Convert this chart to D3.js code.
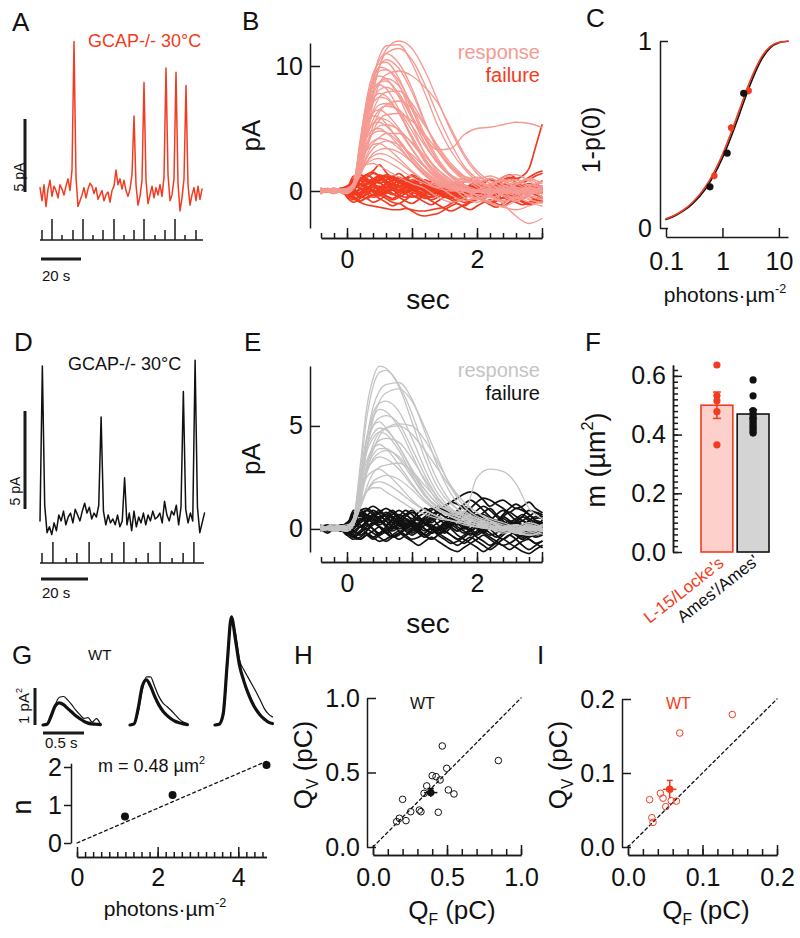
<!DOCTYPE html>
<html><head><meta charset="utf-8">
<script src="https://cdn.jsdelivr.net/npm/d3@7"></script>
<style>html,body{margin:0;padding:0;background:#fff;}svg{display:block;}</style>
</head><body>
<svg id="fig" width="800" height="938"></svg>
<script>
// ================= DATA =================
// Panel A: GCAP-/- 30°C recording (pA), sampled every 1 s
const timeA = d3.range(0, 82);
const traceA = [0.3,-0.6,0.5,-1.0,0.2,0.8,-0.3,0.4,0.1,-0.4,
 0.5,0.2,-0.2,0.4,0.9,0.1,1.5,10.3,1.0,-1.0,
 -0.6,-0.2,0.3,-0.4,0.2,0.6,0.4,-0.1,0.3,-0.5,
 -0.2,0.1,-0.6,-0.2,0.0,-0.7,0.1,0.4,1.5,0.5,
 0.9,0.2,0.8,0.1,-0.3,0.2,1.2,5.2,0.5,-0.9,
 -0.3,0.8,7.5,0.8,-0.8,-0.2,0.4,-0.4,0.3,-0.2,
 0.5,-0.3,1.0,8.5,1.2,-0.6,-0.2,0.9,8.2,0.6,
 -1.3,-0.4,0.9,7.3,0.5,-0.9,-0.2,0.3,-0.6,0.4,
 -0.5,0.2];
const flashA = [1,6,11,16.5,21.5,26.5,31.5,37,42,47,52,57.5,62.5,67.5,72.5,78];
const flashLevelA = [1,2,0,1,2,0,1,2,0,1,2,0,1,2,0,1];

// Panel D
const timeD = d3.range(0, 71);
const traceD = [-0.2,7.7,0.6,-0.8,-0.5,-0.9,-0.3,-0.7,0.1,-0.2,
 0.3,-0.4,0.0,0.2,-0.3,0.4,0.1,-0.2,0.3,0.7,
 0.2,0.5,-0.1,0.2,0.0,0.6,5.1,0.3,-0.4,0.1,
 -0.3,-0.1,-0.4,0.1,-0.5,-0.2,2.0,-0.4,0.2,-0.7,
 0.3,-0.5,0.0,-0.3,0.2,-0.4,0.1,-0.2,0.3,-0.1,
 0.0,0.2,-0.3,0.8,0.1,-0.2,0.3,0.1,0.6,-0.4,
 0.5,6.4,0.4,-0.3,0.2,-0.2,8.0,0.5,-0.8,-0.3,
 0.2];
const flashD = [0.85,5.5,11.1,15.7,20.9,26,30.6,35.7,40.9,46,51.1,56.2,60.9,65.5];
const flashLevelD = [1,2,0,1,2,0,1,2,0,1,2,0,1,2];

// Panel B: response traces (pA) at respTime (s); failures at failTime
const respTime = [-0.4,-0.2,0,0.1,0.2,0.3,0.4,0.5,0.6,0.8,1.0,1.2,1.4,1.6,1.8,2.0,2.2,2.4,2.6,2.8,3.0];
const failTime = d3.range(0, 35).map(i => -0.4 + i * 0.1);
const respB = [
 [0.2,-0.1,0.1,0.5,3.5,6.5,9,10.8,11.6,11.7,10.2,7.8,5.2,3.2,1.8,0.8,0.3,-1.0,-2.0,-2.6,-2.2],
 [0,0.2,-0.1,0.3,2.5,5.5,8,10,11,11.4,10.5,8.5,6,3.8,2,1,0.4,0.1,-0.2,0,0.3],
 [-0.2,0.1,0,0.4,3,6.5,9,10.5,11,10.2,8.2,5.5,3.2,1.8,0.9,0.6,-0.4,-0.9,-0.3,0.5,0.2],
 [0.1,-0.2,0.2,0.5,3.5,7,9,9.9,9.8,8.5,6,3.8,2.2,1.2,0.5,-0.4,-0.8,-0.2,0.6,0.9,0.3],
 [0.2,0,-0.1,0.3,3,6,8.5,9.6,9.7,8.8,6.8,4.5,2.6,1.3,0.9,1.1,0.6,-0.1,-0.6,-0.3,0.4],
 [0,0.1,0.2,0.4,2,4.5,7,8.6,9.3,9.6,9.2,8.3,7,5,3,1.6,0.8,0.3,0,-0.3,0.2],
 [-0.1,0.2,0,0.3,2.5,5.5,7.6,8.7,9,8.4,6.5,4.2,2.4,1.2,0.5,0.1,-0.2,0.1,-0.1,0.2,0],
 [0.1,-0.1,0.1,0.6,4,7,8.3,8.5,8.2,6.5,4.2,2.3,1.1,0.4,-0.5,-0.9,-0.4,0.3,0.7,0.2,-0.5],
 [0,0.1,-0.2,0.2,2,4.5,6.4,7.5,7.9,8,7,5.3,3.5,2,1,0.7,1.0,0.5,-0.2,-0.7,-0.9],
 [0.2,0,0.1,0.4,3,5.5,7,7.5,7.4,6.2,4.4,2.6,1.3,0.6,0.2,0,0.1,-0.2,0.2,-0.1,0],
 [-0.2,0.1,0.1,0.3,2.2,4.6,6.2,6.9,7,6.4,4.8,3,1.7,0.8,0.3,-0.6,-0.2,0.6,0.9,0.4,-0.2],
 [0.1,0.2,-0.1,0.5,3,5.2,6.3,6.5,6.2,5,3.4,2,1,0.4,0.2,0,-0.2,0.1,0.3,0,-0.2],
 [0,-0.1,0.2,0.3,1.5,3.3,4.8,5.7,6.1,6.2,5.6,4.5,3.2,2,1.1,0.5,-0.3,-0.8,-0.5,0.3,0.8],
 [0.1,0,0,0.4,2.5,4.4,5.4,5.8,5.7,4.8,3.3,1.9,0.9,0.4,0.1,-0.1,0.2,0,-0.2,0.1,0.2],
 [-0.1,0.2,0.1,0.3,1.8,3.6,4.7,5.2,5.3,4.9,3.8,2.5,1.4,0.7,0.8,0.3,-0.5,-0.2,0.5,1.0,0.6],
 [0.2,-0.1,0.1,0.5,2.6,4.2,4.9,5,4.7,3.6,2.3,1.2,0.5,0.2,0,0.1,-0.2,0.1,0,0.2,-0.1],
 [0,0.1,-0.1,0.3,1.4,2.8,3.8,4.3,4.6,4.6,3.9,2.8,1.7,0.9,-0.2,-0.7,-0.3,0.4,0.2,-0.6,-1.0],
 [0.1,0,0.2,0.4,2,3.3,4,4.2,4.1,3.4,2.3,1.3,0.6,0.2,0,-0.1,0.1,0,0.2,-0.2,0],
 [-0.1,0.1,0,0.5,2,3.2,3.7,3.8,3.5,2.6,1.6,0.8,0.3,0.6,1.0,0.7,0.2,-0.4,-0.8,-0.3,0.3],
 [0.2,0,-0.2,0.3,1.2,2.3,3,3.3,3.4,3.1,2.3,1.4,0.7,0.3,0.1,-0.1,0,0.2,0,0.1,0],
 [0,0.1,0.1,0.4,1.4,2.3,2.8,3,2.9,2.3,1.5,0.8,0.4,-0.3,-0.8,-0.5,0.3,0.9,0.6,0.0,-0.4],
 [0.1,-0.1,0,0.5,1.5,2.2,2.5,2.6,2.4,1.8,1.1,0.6,0.2,0,0.1,-0.1,0,0.2,-0.1,0,0.1],
 [0.1,0,0.2,0.5,3,6.3,8.8,10,10.5,9.8,7.9,5.4,3.3,1.9,1.2,0.9,0.3,-0.3,-0.6,0.1,0.7],
 [0,0.2,0,0.4,3,6,8,8.7,8.8,7.8,6,4.2,3.3,3.4,4.5,5,5.1,5.3,5.5,5.4,5.1],
 [0.2,-0.1,0,0.2,1.5,3.6,5.2,6.3,6.9,7.2,6.6,5.2,3.6,2.2,1.2,0.5,0.1,-0.1,-0.4,-0.9,-1.2],
 [0,0.1,0.1,0.7,3.2,5.2,6,5.9,5.4,4,2.5,1.3,0.5,0.1,-0.2,-0.6,-1.0,-1.3,-1.5,-1.2,-0.9],
 [0.1,0,-0.1,0.4,2.2,3.8,4.6,4.8,4.7,3.9,2.7,1.6,0.8,0.3,0,-0.3,-0.5,-0.8,-0.6,-0.4,-0.6],
 [-0.1,0.1,0,0.6,3.8,7,8.7,9.2,9,7.5,5.2,3,1.5,0.7,0.2,0,0.2,-0.1,0,0.3,0.1],
 [0,0,0.2,0.6,1.6,2.1,2.2,2.0,1.7,1.1,0.6,0.2,-0.5,-0.9,-0.6,0,0.6,0.8,0.3,-0.4,-0.7],
 [0.1,0,0,0.3,2.2,5,7.8,10,11.3,12,11.4,9.6,7.2,4.8,2.8,1.4,0.6,0.1,-0.2,0,0.2],
 [0,0.1,0,0.5,3.2,6,7.4,7.8,7.6,6.2,4.2,2.4,1.2,0.5,0.2,0,-0.1,0.1,0,0.2,0],
 [0.1,0,0.1,0.3,2,4.2,5.7,6.5,6.8,6.5,5.2,3.6,2.2,1.2,0.7,0.9,1.2,0.8,0.2,-0.3,0.1],
 [-0.1,0.1,0,0.5,2.8,4.6,5.4,5.5,5.2,4.1,2.7,1.5,0.7,0.3,0.1,0,0.1,-0.1,0,0.1,0],
 [0,0.1,0.1,0.4,2.6,5.5,7.3,8.1,8.3,7.6,5.8,3.8,2.2,1.1,0.2,-0.4,-0.9,-1.2,-0.8,-0.2,0.4],
 [0.1,-0.1,0.1,0.3,1.3,2.6,3.4,3.8,4,3.7,2.9,1.9,1.1,0.5,0.2,0,0.1,-0.1,0.1,0,0],
 [0,0.1,0,0.5,3.8,7.3,9.4,10.2,10.3,9,6.6,4.2,2.4,1.2,0.4,0.1,0.5,1.1,1.3,0.8,0.2]
];
const failB = [
 [0,0.2,-0.1,0.1,0.3,0.1,-0.2,0.5,0.9,1.2,0.8,0.4,0.6,1.0,0.7,0.3,0.1,-0.2,0.2,0.5,0.3,0,-0.3,0.1,0.4,0.2,-0.1,0.3,0.6,0.4,0.1,-0.2,0.0,0.3,0.1],
 [0.1,-0.1,0.2,0,-0.2,-0.1,-0.4,-0.6,-0.3,0.2,0.4,0.1,-0.3,-0.5,-0.2,0.3,0.5,0.2,-0.1,-0.4,-0.6,-0.3,0.1,0.4,0.2,-0.2,-0.5,-0.3,0,0.3,0.5,0.2,-0.1,0.2,0.4],
 [-0.1,0,0.1,0.2,0,0.4,0.8,1.3,1.5,1.2,0.9,1.1,1.4,1.0,0.6,0.8,0.5,0.2,0.4,0.1,-0.2,-0.5,-0.3,0,0.2,0.6,0.9,0.7,0.4,0.2,0.5,0.8,1.1,1.4,1.6],
 [0,0.1,-0.1,0,-0.3,-0.6,-0.9,-1.1,-1.2,-1.3,-1.4,-1.5,-1.5,-1.4,-1.5,-1.6,-1.6,-1.5,-1.4,-1.3,-1.0,-0.7,-0.5,-0.3,-0.4,-0.2,0.1,0.2,-0.1,-0.3,-0.2,0,0.1,-0.1,0.2],
 [0.2,0,0.1,-0.1,0.1,0.9,0.6,0.2,0.5,0.8,1.1,0.7,0.3,0.0,0.4,0.7,0.9,0.6,0.2,-0.1,0.2,0.5,0.3,-0.2,-0.4,-0.1,0.3,0.5,0.8,1.0,0.7,0.4,0.2,0.5,0.8],
 [-0.2,0.1,0,0.2,-0.5,-0.9,-0.6,-0.2,0.1,-0.2,-0.6,-0.9,-1.0,-0.7,-0.4,-0.6,-0.9,-1.1,-0.8,-0.5,-0.7,-1.0,-1.2,-0.9,-0.6,-0.8,-1.1,-1.3,-1.0,-0.7,-0.9,-1.1,-0.9,-0.6,-0.8],
 [0,-0.1,0.1,0.2,0.4,0.7,1.0,1.3,1.6,2.1,1.5,1.0,0.7,0.9,0.6,0.3,0.5,0.2,0,-0.2,0.1,0.3,0,-0.3,-0.5,-0.2,0.1,0.4,0.2,0,-0.3,-0.5,-0.2,0.1,0.3],
 [0.1,0,-0.2,0.1,0.3,0.0,-0.3,0.2,0.6,0.9,0.6,0.3,0.1,0.4,0.7,0.4,0.1,-0.2,0.1,0.3,0.5,0.2,0,0.3,0.6,0.8,1.0,0.8,0.9,1.1,1.0,1.2,1.8,3.5,5.3],
 [0,0.1,0,-0.1,0.2,0.6,1.0,0.8,0.4,0.1,-0.2,0.2,0.6,1.0,1.3,1.1,0.7,0.4,0.0,-0.3,-0.5,-0.2,0.1,-0.1,-0.4,-0.7,-0.9,-0.6,-0.3,-0.5,-0.8,-0.6,-0.3,0.0,0.2],
 [-0.1,0.1,0.2,0,0.3,-0.1,-0.5,-0.3,0.1,0.4,0.2,-0.2,-0.5,-0.8,-1.0,-0.7,-0.3,0.0,0.3,0.5,0.2,-0.1,0.2,0.5,0.8,0.6,0.3,0.0,-0.2,0.1,0.4,0.2,0.0,-0.3,-0.5],
 [0.1,0,-0.1,0.1,0.2,1.2,0.9,0.5,0.8,1.1,0.7,0.2,-0.1,0.2,0.5,0.3,-0.1,-0.3,0.0,0.2,-0.1,-0.4,-0.2,0.1,0.3,0.0,-0.3,-0.1,0.2,0.4,0.6,0.3,0.0,-0.2,0.1],
 [0,-0.1,0.1,0,-0.2,-0.5,-0.8,-0.5,-0.3,-0.6,-0.9,-1.2,-1.0,-1.3,-1.6,-1.9,-2.0,-1.9,-1.8,-1.5,-1.2,-1.0,-1.3,-1.5,-1.2,-0.9,-0.7,-1.0,-1.2,-0.9,-0.6,-0.8,-1.0,-0.7,-0.5],
 [0.2,0.1,0,0.1,0.2,0.5,0.3,0.6,1.0,0.7,0.3,0.5,0.9,0.6,0.2,-0.1,0.2,0.4,0.7,0.5,0.2,0.4,0.7,0.9,0.6,0.3,0.5,0.8,1.1,1.3,1.0,0.7,0.9,1.2,1.4],
 [0,0.1,-0.1,0.1,-0.1,0.3,0.5,0.2,-0.1,-0.4,-0.2,0.1,0.4,0.2,-0.1,-0.3,-0.6,-0.4,-0.1,0.2,0.0,-0.3,-0.6,-0.9,-0.7,-0.4,-0.2,-0.5,-0.8,-0.6,-0.3,-0.1,-0.4,-0.7,-0.9],
 [-0.1,0,0.1,0.2,0.2,1.0,1.3,1.1,1.4,1.2,0.8,0.5,0.3,0.6,0.9,0.6,0.3,0.0,0.2,0.0,-0.2,0.1,0.3,0.1,-0.1,0.2,0.0,-0.2,0.1,0.3,0.0,-0.2,0.1,0.2,0.0],
 [0.1,-0.1,0,-0.1,-0.3,-0.2,0.1,0.3,0.0,-0.3,-0.1,0.2,0.0,-0.2,0.1,0.4,0.6,0.8,0.5,0.2,0.4,0.7,0.5,0.2,0.0,-0.2,0.0,0.3,0.5,0.3,0.1,0.4,0.6,0.4,0.2],
 [0,0.2,0,-0.1,0.1,0.2,-0.2,0.1,0.5,0.3,0.0,-0.3,-0.1,0.3,0.1,-0.2,-0.4,-0.7,-0.5,-0.2,-0.5,-0.8,-0.6,-0.3,0.0,0.2,-0.1,-0.3,-0.6,-0.4,-0.2,0.1,-0.1,-0.3,-0.1],
 [0.1,0,0.1,0,0.2,0.7,1.1,0.9,0.6,0.9,1.2,1.0,0.7,0.4,0.7,1.0,0.8,0.5,0.2,0.0,0.3,0.5,0.2,-0.1,0.1,0.4,0.2,-0.1,-0.3,0.0,0.3,0.5,0.3,0.0,-0.2],
 [0,-0.1,0,0.1,-0.4,-0.7,-0.4,0.0,0.3,0.0,-0.4,-0.7,-0.5,-0.2,0.1,-0.2,-0.5,-0.8,-1.1,-1.4,-1.6,-1.4,-1.1,-0.8,-0.5,-0.7,-1.0,-0.8,-0.5,-0.3,-0.6,-0.9,-1.1,-0.9,-0.6],
 [0.1,0,0,0.2,0.2,0.5,0.9,1.3,1.0,0.6,0.9,1.2,0.8,0.4,0.1,0.3,0.0,-0.3,-0.1,0.2,0.4,0.1,-0.2,0.0,0.3,0.1,-0.2,0.0,0.2,-0.1,-0.3,0.0,0.2,0.5,0.3],
 [0,0.1,0,0,0.1,0.4,0.2,-0.2,-0.5,-0.3,0.0,0.3,0.1,-0.2,-0.5,-0.3,0.0,0.3,0.5,0.3,0.0,-0.2,0.1,0.3,0.0,-0.3,-0.5,-0.2,0.1,-0.1,-0.4,-0.6,-0.3,0.0,0.2],
 [0.1,0,0.1,0,0.2,0.9,1.3,1.0,0.7,1.0,1.3,1.1,0.8,0.5,0.3,0.5,0.2,-0.1,0.1,0.3,0.6,0.4,0.1,0.3,0.5,0.2,0.0,0.2,0.4,0.2,-0.1,0.1,0.3,0.1,-0.2],
 [0,0.1,0,0.1,0.1,0.3,0.6,0.4,0.1,-0.1,0.2,0.5,0.8,0.6,0.3,0.5,0.2,0.0,-0.2,0.1,0.3,0.6,0.4,0.1,-0.2,0.0,0.3,0.1,-0.2,-0.4,-0.1,0.2,0.4,0.1,-0.1],
 [0.1,0,0.1,0,-0.1,-0.3,-0.1,0.2,0.5,0.3,0.6,0.9,0.7,0.4,0.2,0.0,-0.3,-0.5,-0.3,0.0,0.3,0.1,-0.2,-0.4,-0.2,0.1,0.3,0.5,0.2,0.0,-0.2,0.0,0.3,0.5,0.2],
 [0,0.1,-0.1,0,0.1,0.6,1.0,0.7,0.9,1.3,1.1,0.8,1.0,0.7,0.4,0.1,0.3,0.6,0.3,0.0,-0.2,0.1,0.4,0.2,-0.1,-0.3,0.0,0.2,0.0,-0.3,-0.1,0.2,0.0,-0.2,0.1],
 [0,0,0.1,0,-0.1,-0.4,-0.8,-0.6,-0.9,-0.7,-0.4,-0.6,-0.3,0.0,-0.3,-0.5,-0.2,0.1,-0.2,-0.4,-0.1,0.2,0.0,-0.3,-0.1,0.2,0.4,0.1,-0.2,0.0,0.3,0.1,-0.2,0.0,0.2],
 [0.1,0,0,0.1,0.2,0.2,0.5,0.9,0.6,0.3,0.5,0.8,1.1,0.9,1.2,0.9,0.6,0.8,0.5,0.2,0.4,0.1,-0.1,0.2,0.4,0.2,-0.1,0.1,0.3,0.1,-0.2,0.0,0.2,0.0,-0.1],
 [0,0.1,0,-0.1,0.0,-0.2,0.2,0.0,-0.3,0.0,0.3,0.6,0.4,0.7,0.5,0.2,0.4,0.1,-0.2,-0.5,-0.3,-0.6,-0.9,-0.7,-0.4,-0.6,-0.3,0.0,0.2,-0.1,-0.4,-0.2,0.1,0.3,0.0]
];

// Panel E
const respE = [
 [0.2,-0.1,0.1,0.5,3,5.8,7.3,7.9,7.8,6.9,5.2,3.4,2.0,1.2,0.8,0.5,0.3,0.1,0,-0.2,0],
 [0,0.1,0,0.3,2.6,5.3,6.9,7.6,7.7,7.0,5.6,3.8,2.3,1.3,0.7,0.4,0.1,0,-0.1,0.2,0],
 [-0.1,0.1,0.2,0.3,2,4.3,5.9,6.7,7.0,7.1,6.3,4.7,3.0,1.7,0.9,0.5,0.3,0.1,0.2,0,-0.1],
 [0.1,0,-0.1,0.2,1.6,3.8,5.3,6.2,6.6,6.8,6.2,4.9,3.4,2.0,1.1,0.6,0.4,0.2,0.0,-0.3,-0.1],
 [0,0.2,0.1,0.4,2.4,4.4,5.4,5.8,5.7,4.9,3.6,2.3,1.3,0.8,0.5,0.3,0.1,-0.1,0.2,0,0.1],
 [0.1,0,0,0.3,1.9,3.9,5.0,5.4,5.5,5.1,3.9,2.6,1.5,0.9,0.6,0.3,0,0.1,-0.2,0,0.2],
 [0.2,-0.1,0.1,0.5,2.6,4.3,5.0,5.2,4.9,4.0,2.8,1.7,1.0,0.6,0.3,0.1,0.3,0,-0.1,0.1,0],
 [0,0.1,-0.1,0.2,1.4,3.0,4.1,4.7,4.9,5.0,4.6,3.8,2.9,2.0,1.3,0.8,0.5,0.3,0.1,0,0.2],
 [-0.1,0.1,0.1,0.4,2.1,3.7,4.4,4.7,4.6,3.8,2.6,1.6,1.0,0.7,0.5,0.3,0.1,0,0.2,-0.1,0],
 [0.1,0,0.1,0.3,1.5,3.0,3.9,4.3,4.4,4.2,3.4,2.4,1.5,0.9,0.6,0.4,0.2,0,0.1,0.3,0.1],
 [0,0.1,0,0.5,2.0,3.3,3.9,4.1,3.9,3.1,2.2,1.4,0.9,0.6,0.4,0.2,0,0.1,-0.1,0,0.2],
 [0.1,-0.1,0,0.3,1.4,2.7,3.4,3.7,3.8,3.5,2.7,1.9,1.2,0.9,0.8,2.5,2.9,2.8,2.2,1.0,0.5],
 [0,0.2,0.1,0.4,1.7,2.8,3.3,3.5,3.4,2.9,2.1,1.4,0.9,0.6,0.4,0.2,0.1,0,-0.2,0.1,0],
 [0.1,0,-0.1,0.2,1.0,2.0,2.7,3.0,3.1,3.2,2.8,2.1,1.4,0.9,0.7,0.5,0.3,0.1,0,0.2,0],
 [0,0.1,0.1,0.5,1.6,2.5,2.8,2.9,2.7,2.1,1.4,0.9,0.6,0.4,0.3,0.1,0,0.1,0.2,0,-0.1],
 [-0.1,0,0.1,0.3,1.0,1.8,2.3,2.5,2.6,2.4,1.9,1.3,0.9,0.7,0.5,0.3,0.2,0,0.1,-0.1,0.1],
 [0.1,0,0,0.4,1.2,1.8,2.2,2.3,2.2,1.8,1.3,0.9,0.6,0.4,0.3,0.2,0,-0.1,0,0.1,0],
 [0,0.1,0.1,0.3,2.1,4.3,5.6,6.1,6.2,5.7,4.4,2.9,1.7,1.0,0.6,0.3,0.1,0,-0.1,0.1,0],
 [0.1,0,0,0.2,1.2,2.7,3.8,4.5,4.9,5.1,5.0,4.3,3.2,2.1,1.3,0.8,0.4,0.1,-0.1,-0.3,-0.2],
 [0,0.1,-0.1,0.3,1.6,2.9,3.6,3.9,3.9,3.4,2.5,1.6,1.1,0.9,0.7,0.5,0.2,0,-0.2,-0.3,-0.1],
 [0.1,0,0.1,0.4,2.2,3.9,4.6,4.9,4.8,4.0,2.9,1.9,1.2,0.8,0.5,0.3,0.0,-0.2,-0.1,0.1,0],
 [0,0,0.1,0.5,1.3,1.8,2.0,2.0,1.8,1.4,1.0,0.7,0.5,0.4,0.2,0.1,0,-0.1,0,0.2,0]
];
const failE = [
 [0.2,0,0.1,-0.1,0.3,0.6,0.8,0.5,0.7,0.9,0.6,0.3,0.5,0.7,0.4,0.2,0.4,0.6,0.9,1.1,1.3,1.2,1.0,0.8,0.6,0.4,0.2,0.3,0.5,0.3,0.1,0.0,0.2,0.4,0.3],
 [0,-0.1,0.1,0,-0.2,-0.4,-0.2,0.1,0.3,0.1,-0.2,-0.4,-0.3,0.0,0.2,0.0,-0.3,-0.5,-0.3,-0.1,0.2,0.4,0.6,0.8,0.6,0.4,0.2,0.0,-0.2,0.0,0.2,0.4,0.6,0.8,0.7],
 [0.1,0.2,0,0.1,0.1,0.7,0.9,1.0,0.8,0.5,0.7,0.9,0.6,0.3,0.1,0.3,0.5,0.7,0.9,1.1,1.3,1.5,1.7,1.8,1.7,1.4,1.1,1.3,1.4,1.2,1.0,1.1,1.3,1.0,0.8],
 [-0.1,0,0.1,0,-0.3,-0.5,-0.4,-0.2,-0.4,-0.6,-0.5,-0.3,-0.1,-0.3,-0.5,-0.4,-0.2,0.0,-0.2,-0.4,-0.6,-0.8,-0.6,-0.4,-0.6,-0.8,-1.0,-0.8,-0.5,-0.7,-0.9,-1.1,-1.2,-1.0,-0.8],
 [0,0.1,-0.1,0.1,0.1,0.3,0.1,0.4,0.7,0.5,0.2,0.0,0.3,0.6,0.8,0.6,0.3,0.1,0.0,0.3,0.6,0.9,1.2,1.4,1.2,0.9,0.6,0.4,0.7,1.0,1.2,1.0,0.7,0.5,0.6],
 [0.1,0,0.1,-0.1,-0.1,0.2,0.5,0.3,0.0,-0.2,0.1,0.4,0.2,-0.1,-0.3,-0.1,0.2,0.0,-0.3,-0.5,-0.7,-0.6,-0.4,-0.2,-0.4,-0.6,-0.8,-0.6,-0.3,-0.1,-0.3,-0.5,-0.3,0.0,0.1],
 [0,0.1,0,0.2,0.2,0.9,0.7,0.4,0.6,0.8,1.0,0.8,0.5,0.7,0.9,0.6,0.3,0.5,0.2,0.0,0.2,0.4,0.1,-0.1,0.1,0.3,0.5,0.3,0.1,-0.1,0.2,0.4,0.2,0.0,-0.2],
 [-0.1,0.1,0.2,0,0.2,-0.1,-0.3,-0.1,0.2,0.4,0.1,-0.1,0.1,0.3,0.1,-0.2,-0.4,-0.2,0.0,0.2,0.0,-0.3,-0.5,-0.7,-0.9,-1.1,-0.9,-0.7,-0.8,-1.0,-0.8,-0.6,-0.5,-0.7,-0.6],
 [0.1,0,0,0.1,0.3,0.5,0.3,0.6,0.9,0.7,0.4,0.2,0.4,0.1,-0.1,0.1,0.3,0.2,0.0,-0.2,0.1,0.4,0.7,1.0,1.3,1.5,1.4,1.2,1.0,0.8,1.0,0.9,0.7,0.4,0.2],
 [0,-0.2,0,0.1,-0.2,-0.1,0.1,-0.2,-0.4,-0.2,0.0,-0.3,-0.5,-0.3,0.0,0.2,0.0,-0.2,-0.1,0.1,0.3,0.1,-0.1,-0.3,-0.1,0.2,0.0,-0.3,-0.5,-0.3,-0.1,0.1,-0.1,-0.3,-0.2],
 [0.1,0.1,0,0,0.1,0.8,0.6,0.9,1.1,0.9,0.6,0.8,0.5,0.2,0.4,0.6,0.8,1.0,0.8,0.6,0.4,0.2,0.4,0.6,0.4,0.2,0.0,0.3,0.6,0.8,0.6,0.4,0.2,0.0,0.1],
 [0,0.1,-0.1,0,-0.1,-0.4,-0.5,-0.3,-0.1,0.1,-0.1,-0.4,-0.2,0.1,0.3,0.1,-0.1,0.1,0.3,0.5,0.7,0.5,0.2,0.0,-0.2,0.0,0.2,0.4,0.2,0.0,-0.2,-0.4,-0.2,0.1,0.3],
 [0.1,0,0.1,0.1,0.2,0.4,0.2,0.0,0.3,0.5,0.7,0.5,0.2,0.0,-0.2,0.0,0.2,0.5,0.8,1.0,0.8,0.5,0.3,0.6,0.9,1.1,0.9,0.6,0.3,0.1,0.3,0.6,0.9,0.8,0.6],
 [-0.1,0,0.1,0,-0.3,0.0,0.3,0.5,0.3,0.1,-0.2,0.0,0.2,0.4,0.2,-0.1,-0.3,-0.1,0.1,-0.1,-0.3,-0.5,-0.3,-0.1,0.1,-0.1,-0.3,-0.2,0.0,0.2,0.0,-0.2,-0.4,-0.2,0.0],
 [0,0.1,0,0.1,0.1,0.7,0.9,0.7,0.4,0.6,0.4,0.1,0.3,0.5,0.3,0.0,0.2,0.4,0.6,0.4,0.1,-0.1,0.1,0.3,0.1,-0.2,-0.4,-0.6,-0.8,-0.7,-0.5,-0.3,-0.5,-0.7,-0.9],
 [0.1,-0.1,0,0.1,0.0,-0.2,0.1,0.3,0.5,0.3,0.5,0.7,0.9,0.7,0.5,0.8,1.0,0.8,0.5,0.3,0.5,0.8,1.1,0.9,0.6,0.8,1.0,0.7,0.4,0.2,0.4,0.6,0.4,0.2,0.4],
 [0,0.1,0,0,-0.2,-0.4,-0.2,0.0,-0.2,-0.4,-0.6,-0.4,-0.2,-0.4,-0.6,-0.8,-0.6,-0.4,-0.6,-0.8,-1.0,-1.1,-0.9,-0.7,-0.5,-0.3,-0.5,-0.7,-0.5,-0.3,-0.5,-0.8,-1.0,-0.8,-0.6],
 [0.1,0,0.1,-0.1,0.3,0.1,0.4,0.7,0.5,0.2,0.4,0.6,0.3,0.1,0.3,0.5,0.3,0.1,0.0,0.2,0.4,0.6,0.8,0.6,0.4,0.2,0.4,0.7,0.9,0.7,0.4,0.2,0.4,0.6,0.5],
 [0,0.1,0,0.1,0.1,0.5,0.8,0.6,0.3,0.5,0.8,0.6,0.3,0.1,0.3,0.5,0.3,0.0,-0.2,0.0,0.2,0.0,-0.2,0.0,0.3,0.5,0.3,0.0,-0.2,0.1,0.3,0.1,-0.1,0.1,0.3],
 [0.1,0,0.1,0,0.0,-0.3,-0.1,0.2,0.0,-0.3,-0.1,0.2,0.4,0.2,0.0,0.2,0.5,0.3,0.6,0.9,0.7,0.4,0.1,0.3,0.0,-0.2,0.1,0.3,0.6,0.4,0.1,-0.1,0.1,0.3,0.1],
 [0,0.1,-0.1,0,0.1,0.4,0.7,0.9,0.7,0.4,0.2,0.5,0.7,0.5,0.2,-0.1,-0.3,-0.5,-0.3,-0.1,-0.3,-0.5,-0.7,-0.5,-0.2,0.0,-0.2,-0.4,-0.2,0.0,0.2,0.0,-0.2,-0.4,-0.3],
 [0.1,0,0,0.1,0.0,0.3,0.1,0.3,0.6,0.8,0.6,0.3,0.6,0.9,0.7,0.4,0.6,0.9,1.1,0.9,0.6,0.3,0.0,0.2,0.5,0.7,0.5,0.3,0.1,0.3,0.5,0.7,0.5,0.3,0.1],
 [0,0.1,0,0,-0.1,-0.3,-0.5,-0.3,-0.5,-0.3,-0.1,0.1,-0.1,-0.3,-0.1,0.1,0.3,0.1,-0.1,0.1,0.3,0.5,0.3,0.5,0.7,0.5,0.2,0.0,0.2,0.4,0.2,-0.1,-0.3,-0.1,0.1],
 [0.1,0,0.1,0,0.1,0.6,0.4,0.7,0.5,0.8,0.6,0.3,0.0,0.2,0.4,0.2,0.0,-0.2,0.0,0.3,0.1,-0.1,0.1,-0.1,-0.3,-0.1,0.1,0.3,0.1,-0.1,-0.3,-0.5,-0.3,-0.1,0.1]
];

// Panel C: 1-p(0) vs flash strength
const cBlackX = [0.6, 1.21, 2.38];
const cBlackY = [0.22, 0.40, 0.72];
const cRedX = [0.72, 1.42, 2.92];
const cRedY = [0.28, 0.536, 0.734];
const cFitX = [0.1,0.15,0.2,0.3,0.5,0.7,1,1.5,2,3,5,7,10,14.5];
const cFitBlack = [0.046,0.068,0.090,0.132,0.209,0.280,0.375,0.506,0.609,0.756,0.905,0.963,0.991,0.999];
const cFitRed = [0.049,0.072,0.095,0.139,0.221,0.295,0.393,0.528,0.632,0.777,0.918,0.970,0.993,0.999];

// Panel F
const fCats = ["L-15/Locke's", "Ames'/Ames'"];
const fMeans = [0.50, 0.47];
const fSEM = [0.045, 0.015];
const fRedDots = [0.637, 0.533, 0.515, 0.478, 0.365];
const fBlackDots = [0.586, 0.532, 0.482, 0.472, 0.463, 0.455, 0.447, 0.44, 0.432, 0.425, 0.418, 0.41, 0.405];

// Panel G: variance traces (pA^2) and n vs flash strength
const gTime = d3.range(0, 15).map(i => i * 0.05);
const gThick = [
 [0,0.02,0.25,0.52,0.6,0.55,0.45,0.35,0.25,0.17,0.1,0.05,0.03,0.02,0.01],
 [0,0.03,0.45,1.05,1.22,1.05,0.78,0.55,0.38,0.26,0.17,0.1,0.06,0.03,0.01],
 [0,0.02,0.3,1.7,2.92,2.3,1.6,1.2,0.88,0.62,0.42,0.27,0.16,0.08,0.04]
];
const gThin = [
 [0,0.02,0.2,0.55,0.75,0.77,0.68,0.55,0.4,0.28,0.18,0.2,0.08,0.17,0.03],
 [0,0.02,0.35,0.95,1.3,1.3,1.05,0.78,0.6,0.5,0.4,0.28,0.16,0.08,0.03],
 [0,0.02,0.25,1.5,2.85,2.5,1.75,1.5,1.3,1.1,0.9,0.68,0.45,0.3,0.22]
];
const gX = [1.19, 2.37, 4.7];
const gY = [0.7, 1.26, 2.05];
const gFitX = [0, 4.7];
const gFitY = [0, 2.15];

// Panel H (WT, black)
const hX = [0.468,0.498,0.847,0.40,0.426,0.453,0.363,0.345,0.509,0.547,0.20,0.255,0.313,0.324,0.441,0.178,0.16,0.223];
const hY = [0.678,0.528,0.58,0.479,0.472,0.45,0.41,0.36,0.383,0.356,0.32,0.237,0.248,0.237,0.233,0.193,0.17,0.177];
const hMean = [0.39, 0.365], hErr = [0.045, 0.028];

// Panel I (WT, red)
const iX = [0.140,0.0695,0.029,0.0435,0.047,0.0507,0.058,0.065,0.032,0.0336];
const iY = [0.179,0.154,0.064,0.0726,0.066,0.0545,0.0626,0.062,0.0396,0.0333];
const iMean = [0.056, 0.078], iErr = [0.009, 0.012];

// ================= DRAWING =================
const FONT = "'Liberation Sans', Arial, Helvetica, sans-serif";
const RED = "#f23b20", PINK = "#f59a93", GREY = "#c4c4c4", INK = "#1a1a1a";
const svg = d3.select("#fig").attr("font-family", FONT);
svg.append("rect").attr("width", 800).attr("height", 938).attr("fill", "#fff");

function text(x, y, s, o = {}) {
  const t = svg.append("text").attr("font-size", o.size || 26).attr("fill", o.fill || "#111")
    .attr("text-anchor", o.anchor || "start");
  if (o.rotate) t.attr("transform", `translate(${x},${y}) rotate(${o.rotate})`);
  else t.attr("x", x).attr("y", y);
  if (Array.isArray(s)) {
    s.forEach(p => {
      const ts = t.append("tspan").text(p.t);
      if (p.sup) ts.attr("font-size", "0.6em").attr("dy", "-0.75em");
      if (p.sub) ts.attr("font-size", "0.6em").attr("dy", "0.4em");
      if (p.reset) ts.attr("dy", p.reset);
    });
  } else t.text(s);
  return t;
}
function axis(gen, tx, ty, fs) {
  const g = svg.append("g").attr("transform", `translate(${tx},${ty})`).call(gen);
  g.attr("font-family", FONT).attr("font-size", fs || 25);
  g.select(".domain").attr("stroke", INK).attr("stroke-width", 1.5);
  g.selectAll(".tick line").attr("stroke", INK).attr("stroke-width", 1.5);
  g.selectAll(".tick text").attr("fill", "#111");
  return g;
}
function seg(x1, y1, x2, y2, w, c) {
  svg.append("line").attr("x1", x1).attr("y1", y1).attr("x2", x2).attr("y2", y2)
    .attr("stroke", c || INK).attr("stroke-width", w || 1.5);
}
function drawPath(data, xs, ys, color, width, curve, dash) {
  const p = svg.append("path").datum(data)
    .attr("d", d3.line().x(d => xs(d[0])).y(d => ys(d[1])).curve(curve || d3.curveLinear))
    .attr("fill", "none").attr("stroke", color).attr("stroke-width", width)
    .attr("stroke-linejoin", "round").attr("stroke-linecap", "round");
  if (dash) p.attr("stroke-dasharray", dash);
  return p;
}
const zip = (a, b) => a.map((v, i) => [v, b[i]]);

// Panel letters
[["A",12,31],["B",242,30],["C",586,27],["D",14,351],["E",244,351],["F",585,351],["G",12,664],["H",294,664],["I",537,664]]
  .forEach(([l, x, y]) => text(x, y, l, {size: 26}));

// ---- Panel A ----
const xA = d3.scaleLinear().domain([0, 81]).range([40, 202]);
const yA = d3.scaleLinear().domain([0, 5]).range([192, 119]);
drawPath(zip(timeA, traceA), xA, yA, RED, 1.5);
const tickH = [5, 10, 21];
seg(40, 240, 203, 240, 1.5);
flashA.forEach((t, i) => seg(xA(t), 240, xA(t), 240 - tickH[flashLevelA[i]], 1.5));
seg(25, yA(0), 25, yA(5), 3);
seg(xA(0) + 1, 259, xA(20) + 1, 259, 3);
text(42, 281, "20 s", {size: 15});
text(24, 177, "5 pA", {size: 14, rotate: -90, anchor: "middle"});
text(88, 47, "GCAP-/- 30°C", {size: 18, fill: RED});

// ---- Panel D ----
const xD = d3.scaleLinear().domain([0, 70]).range([40, 204.5]);
const yD = d3.scaleLinear().domain([0, 5]).range([517, 419]);
drawPath(zip(timeD, traceD), xD, yD, "#111", 1.5);
seg(40, 563, 204, 563, 1.5);
flashD.forEach((t, i) => seg(xD(t), 563, xD(t), 563 - tickH[flashLevelD[i]], 1.5));
seg(25, 509, 25, 509 - (yD(0) - yD(5)), 3);
seg(xD(0) + 1, 579, xD(20) + 1, 579, 3);
text(42, 598, "20 s", {size: 15});
text(20, 491, "5 pA", {size: 14, rotate: -90, anchor: "middle"});
text(68, 370, "GCAP-/- 30°C", {size: 18});

// ---- Panels B & E ----
function tracePanel(yDomain, yRange, yTicks, axisY, resp, fail, respColor, failColor, legY) {
  const x = d3.scaleLinear().domain([-0.4, 3.0]).range([321, 542]);
  const y = d3.scaleLinear().domain(yDomain).range(yRange);
  fail.forEach(tr => drawPath(zip(failTime, tr), x, y, failColor, 1.7, d3.curveMonotoneX));
  resp.forEach(tr => drawPath(zip(respTime, tr), x, y, respColor, 1.3, d3.curveMonotoneX));
  axis(d3.axisLeft(y).tickValues(yTicks).tickSize(-10).tickSizeOuter(0).tickPadding(7).tickFormat(d3.format("d")), 310, 0, 25);
  axis(d3.axisBottom(x).tickValues(d3.range(0, 18).map(i => -0.4 + i * 0.2)).tickSize(-5).tickSizeOuter(0).tickFormat(() => ""), 0, axisY);
  axis(d3.axisBottom(x).tickValues([0, 1, 2, 3]).tickSize(-10).tickSizeOuter(0).tickPadding(12)
    .tickFormat(d => (d === 0 || d === 2) ? d : ""), 0, axisY, 25);
  text(540, legY, "response", {size: 20, anchor: "end", fill: respColor});
  text(540, legY + 23, "failure", {size: 20, anchor: "end", fill: failColor});
  text(260, (yRange[0] + yRange[1]) / 2 + 0, "pA", {size: 26, rotate: -90, anchor: "middle"});
  text(428, axisY + 71, "sec", {size: 28, anchor: "middle"});
}
tracePanel([-2.96, 11.84], [228, 43], [0, 10], 238, respB, failB, PINK, RED, 59);
tracePanel([-1.12, 7.91], [552, 366], [0, 5], 562, respE, failE, GREY, "#111", 377);

// ---- Panel C ----
const xC = d3.scaleLog().domain([0.1, 14.5]).range([666, 788]);
const yC = d3.scaleLinear().domain([0, 1]).range([228, 41]);
axis(d3.axisLeft(yC).tickValues([0, 1]).tickSize(-8).tickSizeOuter(0).tickPadding(8).tickFormat(d3.format("d")), 660, 0, 25);
axis(d3.axisBottom(xC).tickValues([0.1, 1, 10]).tickSize(-9).tickSizeOuter(0).tickPadding(15).tickFormat(d => d < 1 ? "0.1" : d), 0, 237, 25);
drawPath(zip(cFitX, cFitBlack), xC, yC, "#111", 1.6, d3.curveMonotoneX);
drawPath(zip(cFitX, cFitRed), xC, yC, RED, 1.6, d3.curveMonotoneX);
cRedX.forEach((v, i) => {
  seg(xC(v * 0.93), yC(cRedY[i]), xC(v * 1.07), yC(cRedY[i]), 1.5, RED);
  seg(xC(v), yC(cRedY[i] - 0.02), xC(v), yC(cRedY[i] + 0.02), 1.5, RED);
  svg.append("circle").attr("cx", xC(v)).attr("cy", yC(cRedY[i])).attr("r", 3.2).attr("fill", RED);
});
cBlackX.forEach((v, i) => svg.append("circle").attr("cx", xC(v)).attr("cy", yC(cBlackY[i])).attr("r", 3.6).attr("fill", "#111"));
text(600, 140, "1-p(0)", {size: 25, rotate: -90, anchor: "middle"});
text(725, 302, [{t: "photons·µm"}, {t: "-2", sup: true}], {size: 21, anchor: "middle"});

// ---- Panel F ----
const yF = d3.scaleLinear().domain([0, 0.637]).range([552, 365]);
const xF = d3.scaleBand().domain(fCats).range([701, 769]).paddingInner(0.12).paddingOuter(0);
const fFill = ["#fdd0cc", "#d4d4d4"], fStroke = [RED, "#111"];
fCats.forEach((c, i) => {
  svg.append("rect").attr("x", xF(c)).attr("y", yF(fMeans[i])).attr("width", xF.bandwidth())
    .attr("height", yF(0) - yF(fMeans[i])).attr("fill", fFill[i]).attr("stroke", fStroke[i]).attr("stroke-width", 1.6);
});
axis(d3.axisLeft(yF).tickValues(d3.range(0, 32).map(i => i * 0.02)).tickSize(-5).tickSizeOuter(0).tickFormat(() => ""), 673, 0);
axis(d3.axisLeft(yF).tickValues([0, 0.2, 0.4, 0.6]).tickSize(-9).tickSizeOuter(0).tickPadding(7).tickFormat(d3.format(".1f")), 673, 0, 25);
[fRedDots, fBlackDots].forEach((dots, i) => {
  const cx = xF(fCats[i]) + xF.bandwidth() / 2;
  const col = i === 0 ? RED : "#111";
  dots.forEach(v => svg.append("circle").attr("cx", cx).attr("cy", yF(v)).attr("r", 3.6).attr("fill", col));
  seg(cx, yF(fMeans[i] - fSEM[i]), cx, yF(fMeans[i] + fSEM[i]), 1.5, col);
  seg(cx - 4, yF(fMeans[i] + fSEM[i]), cx + 4, yF(fMeans[i] + fSEM[i]), 1.5, col);
  seg(cx - 4, yF(fMeans[i] - fSEM[i]), cx + 4, yF(fMeans[i] - fSEM[i]), 1.5, col);
});
text(725, 565, fCats[0], {size: 17, rotate: -38, anchor: "end", fill: RED});
text(760, 563, fCats[1], {size: 17, rotate: -38, anchor: "end"});
text(605, 460, [{t: "m (µm"}, {t: "2", sup: true}, {t: ")", reset: "0.45em"}], {size: 27, rotate: -90, anchor: "middle"});

// ---- Panel G ----
const xGt = d3.scaleLinear().domain([0, 0.5]).range([0, 41]);
const yGt = d3.scaleLinear().domain([0, 1]).range([725, 688]);
const gOff = [43, 130, 215];
gOff.forEach((off, k) => {
  const xs = v => off + xGt(v);
  drawPath(zip(gTime, gThin[k]), xs, yGt, "#111", 1.2, d3.curveMonotoneX);
  drawPath(zip(gTime, gThick[k]), xs, yGt, "#111", 3.2, d3.curveMonotoneX);
});
seg(35, yGt(0), 35, yGt(1), 3);
seg(43, 733, 43 + xGt(0.5), 733, 3);
text(45, 748, "0.5 s", {size: 15});
text(29, 706, [{t: "1 pA"}, {t: "2", sup: true}], {size: 15, rotate: -90, anchor: "middle"});
text(88, 660, "WT", {size: 15});

const xG = d3.scaleLinear().domain([0, 4.7]).range([77, 266.5]);
const yG = d3.scaleLinear().domain([0, 2.1]).range([843, 763.2]);
axis(d3.axisLeft(yG).tickValues([0, 1, 2]).tickSize(7).tickSizeOuter(0).tickPadding(2).tickFormat(d3.format("d")), 71, 0, 25);
axis(d3.axisBottom(xG).tickValues(d3.range(0, 24).map(i => i * 0.2)).tickSize(-5).tickSizeOuter(0).tickFormat(() => ""), 0, 857);
axis(d3.axisBottom(xG).tickValues([0, 2, 4]).tickSize(-10).tickSizeOuter(0).tickPadding(11).tickFormat(d3.format("d")), 0, 857, 25);
drawPath(zip(gFitX, gFitY), xG, yG, "#111", 1.3, d3.curveLinear, "3,3");
gX.forEach((v, i) => svg.append("circle").attr("cx", xG(v)).attr("cy", yG(gY[i])).attr("r", 4).attr("fill", "#111"));
text(98, 772, [{t: "m = 0.48 µm"}, {t: "2", sup: true}], {size: 18});
text(31, 807, "n", {size: 27, rotate: -90, anchor: "middle"});
text(165, 916, [{t: "photons·µm"}, {t: "-2", sup: true}], {size: 21, anchor: "middle"});

// ---- Panels H & I ----
function qPanel(x0, x1, yTop, dom, ticksMaj, step, xs, ys, mean, err, col, wtX, xLabelX, yLabelX) {
  const x = d3.scaleLinear().domain([0, dom]).range([x0, x1]);
  const y = d3.scaleLinear().domain([0, dom]).range([847, yTop]);
  axis(d3.axisLeft(y).tickValues(ticksMaj).tickSize(-9).tickSizeOuter(0).tickPadding(7).tickFormat(d3.format(".1f")), x0 - 6, 0, 25);
  axis(d3.axisBottom(x).tickValues(d3.range(0, 11).map(i => i * step)).tickSize(-6).tickSizeOuter(0).tickFormat(() => ""), 0, 855);
  axis(d3.axisBottom(x).tickValues(ticksMaj).tickSize(-10).tickSizeOuter(0).tickPadding(13).tickFormat(d3.format(".1f")), 0, 855, 25);
  drawPath([[0, 0], [dom, dom]], x, y, "#111", 1.3, d3.curveLinear, "3,3");
  xs.forEach((v, i) => svg.append("circle").attr("cx", x(v)).attr("cy", y(ys[i])).attr("r", 3.3)
    .attr("fill", "none").attr("stroke", col).attr("stroke-width", 1));
  seg(x(mean[0] - err[0]), y(mean[1]), x(mean[0] + err[0]), y(mean[1]), 1.5, col);
  seg(x(mean[0]), y(mean[1] - err[1]), x(mean[0]), y(mean[1] + err[1]), 1.5, col);
  seg(x(mean[0]) - 3, y(mean[1] + err[1]), x(mean[0]) + 3, y(mean[1] + err[1]), 1.5, col);
  svg.append("circle").attr("cx", x(mean[0])).attr("cy", y(mean[1])).attr("r", 3.8).attr("fill", col);
  text(wtX, 709, "WT", {size: 16, fill: col});
  text(xLabelX, 919, [{t: "Q"}, {t: "F", sub: true}, {t: " (pC)", reset: "-0.24em"}], {size: 26, anchor: "middle"});
  text(yLabelX, 765, [{t: "Q"}, {t: "V", sub: true}, {t: " (pC)", reset: "-0.24em"}], {size: 26, rotate: -90, anchor: "middle"});
}
qPanel(373, 521, 698, 1.0, [0, 0.5, 1.0], 0.1, hX, hY, hMean, hErr, "#111", 410, 452, 312);
qPanel(628, 777, 699, 0.2, [0, 0.1, 0.2], 0.02, iX, iY, iMean, iErr, RED, 666, 706, 567);
</script>
</body></html>
